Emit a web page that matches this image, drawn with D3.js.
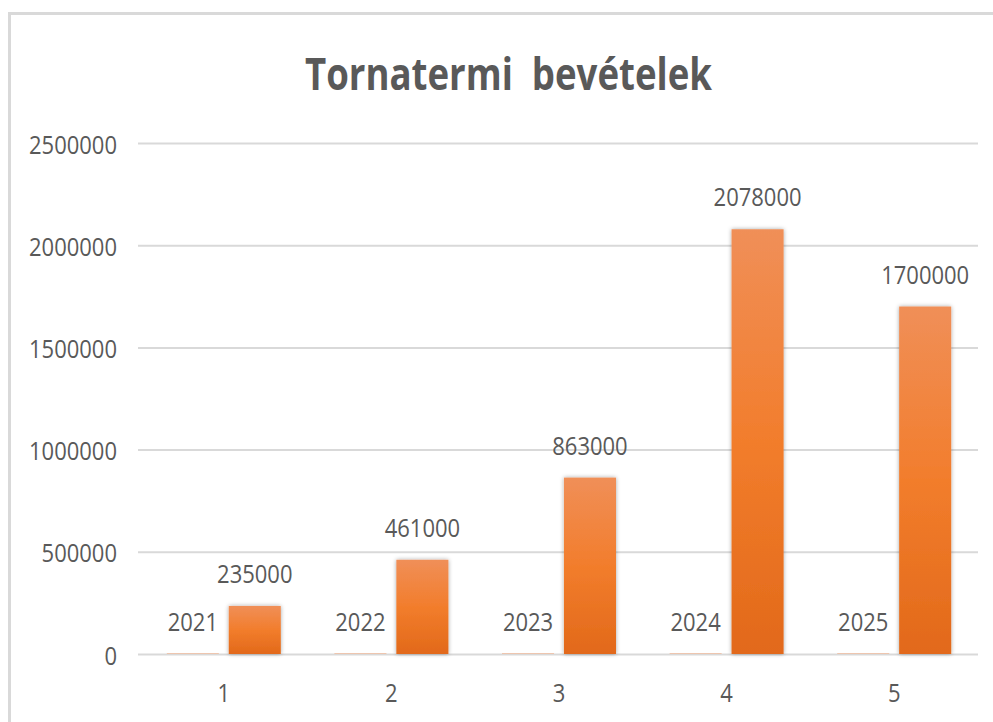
<!DOCTYPE html>
<html>
<head>
<meta charset="utf-8">
<script src="https://cdn.jsdelivr.net/npm/d3@7"></script>
<style>
  html, body { margin: 0; padding: 0; background: #fff; }
  svg { display: block; }
  text { font-family: "Open Sans", "Noto Sans", sans-serif; fill: #595959; }
</style>
</head>
<body>
<script>
// ---- data ----
const title = "Tornatermi  bevételek";
const categories = ["1", "2", "3", "4", "5"];
const seriesNames = ["Év", "Bevétel"];
const years = [2021, 2022, 2023, 2024, 2025];
const revenue = [235000, 461000, 863000, 2078000, 1700000];
const yTicks = [0, 500000, 1000000, 1500000, 2000000, 2500000];

// ---- layout ----
const W = 993, H = 722;
const plot = { left: 140, right: 978, top: 143, bottom: 654 };
const sx = 0.88; // horizontal squeeze of label glyphs
const labelSize = 25;

const svg = d3.select("body").append("svg")
  .attr("width", W).attr("height", H);

svg.append("rect").attr("width", W).attr("height", H).attr("fill", "#fff");

// chart frame (top & left visible)
svg.append("line").attr("x1", 9.5).attr("x2", W).attr("y1", 13.5).attr("y2", 13.5)
  .attr("stroke", "#d9d9d9").attr("stroke-width", 3);
svg.append("line").attr("x1", 9.5).attr("x2", 9.5).attr("y1", 12).attr("y2", H)
  .attr("stroke", "#d9d9d9").attr("stroke-width", 3);

// defs: gradient + shadow
const defs = svg.append("defs");
const grad = defs.append("linearGradient").attr("id", "barGrad")
  .attr("x1", 0).attr("y1", 0).attr("x2", 0).attr("y2", 1);
grad.append("stop").attr("offset", "0%").attr("stop-color", "#F08F58");
grad.append("stop").attr("offset", "50%").attr("stop-color", "#F27D2C");
grad.append("stop").attr("offset", "100%").attr("stop-color", "#E2691A");
const filt = defs.append("filter").attr("id", "shadow")
  .attr("x", "-30%").attr("y", "-10%").attr("width", "160%").attr("height", "120%");
filt.append("feDropShadow").attr("dx", 0).attr("dy", 0).attr("stdDeviation", 2.2)
  .attr("flood-color", "#000").attr("flood-opacity", 0.35);

// ---- scales ----
const x = d3.scaleBand().domain(categories).range([plot.left, plot.right]).padding(0);
const xInner = d3.scaleBand().domain(seriesNames).range([-57, 57]).paddingInner(0.16).paddingOuter(0);
const y = d3.scaleLinear().domain([0, 2500000]).range([plot.bottom, plot.top]);

// gridlines
const grid = svg.append("g").attr("transform", `translate(${plot.left - 2},0)`)
  .call(d3.axisLeft(y).tickValues(yTicks).tickSize(-(plot.right - plot.left + 2)).tickFormat(""));
grid.select(".domain").remove();
grid.selectAll(".tick line").attr("stroke", "#d9d9d9").attr("stroke-width", 2);

// y axis labels
const yAxis = svg.append("g").attr("transform", `translate(${plot.left},0)`)
  .call(d3.axisLeft(y).tickValues(yTicks).tickSize(0).tickFormat(d3.format("d")));
yAxis.select(".domain").remove();
yAxis.selectAll(".tick text")
  .attr("x", 0).attr("dy", null).attr("y", 0)
  .attr("transform", `translate(-23,10) scale(${sx},1)`)
  .attr("text-anchor", "end")
  .style("font-size", labelSize + "px").style("font-family", "'Open Sans', sans-serif")
  .attr("fill", "#595959");

// x axis labels
const xAxis = svg.append("g").attr("transform", `translate(0,${plot.bottom})`)
  .call(d3.axisBottom(x).tickSize(0));
xAxis.select(".domain").remove();
xAxis.selectAll(".tick text")
  .attr("y", 0).attr("dy", null)
  .attr("transform", `translate(0,48) scale(${sx},1)`)
  .style("font-size", labelSize + "px").style("font-family", "'Open Sans', sans-serif")
  .attr("fill", "#595959");

// ---- bars ----
const rows = categories.map((c, i) => ({ c, vals: [years[i], revenue[i]] }));
const groups = svg.append("g").selectAll("g").data(rows).join("g")
  .attr("transform", d => `translate(${x(d.c) + x.bandwidth() / 2},0)`);

groups.selectAll("rect").data(d => d.vals.map((v, j) => ({ s: seriesNames[j], v })))
  .join("rect")
  .attr("x", d => xInner(d.s))
  .attr("width", xInner.bandwidth())
  .attr("y", d => y(d.v))
  .attr("height", d => y(0) - y(d.v))
  .attr("fill", "url(#barGrad)")
  .attr("filter", d => (y(0) - y(d.v)) > 2 ? "url(#shadow)" : null);

// data labels
groups.selectAll("text.lbl").data(d => d.vals.map((v, j) => ({ s: seriesNames[j], v })))
  .join("text").attr("class", "lbl")
  .attr("text-anchor", "middle")
  .attr("transform", d => `translate(${xInner(d.s) + xInner.bandwidth() / 2},${y(d.v) - 23}) scale(${sx},1)`)
  .style("font-size", labelSize + "px")
  .text(d => d.v);

// title
svg.append("text")
  .attr("x", 508.5).attr("y", 90)
  .attr("text-anchor", "middle")
  .attr("textLength", 407).attr("lengthAdjust", "spacingAndGlyphs")
  .style("font-size", "45px").style("font-weight", "bold")
  .style("white-space", "pre")
  .text(title);
</script>
</body>
</html>
